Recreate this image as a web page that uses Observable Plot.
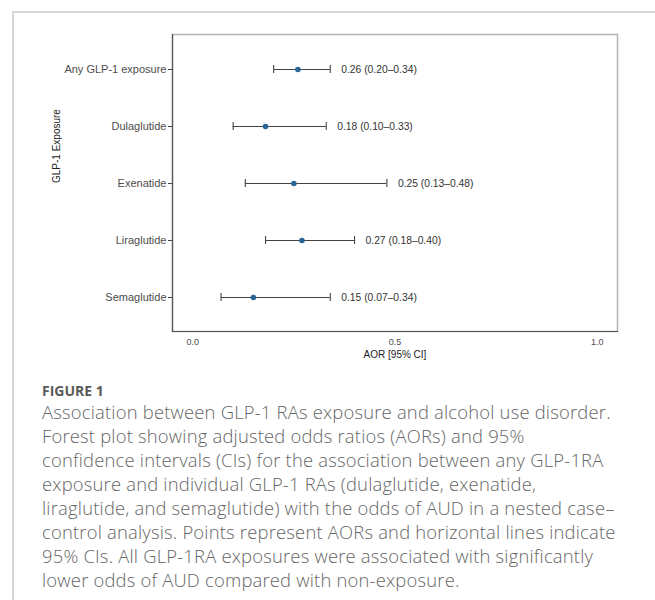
<!DOCTYPE html>
<html><head><meta charset="utf-8">
<script src="https://cdn.jsdelivr.net/npm/d3@7"></script>
<script src="https://cdn.jsdelivr.net/npm/@observablehq/plot@0.6"></script>
<style>
body{margin:0;background:#fff;width:655px;height:600px;overflow:hidden;position:relative;}
#card{position:absolute;left:12px;top:11px;width:700px;height:700px;border-left:2px solid #d6d6d6;border-top:2px solid #d6d6d6;}
#chart{position:absolute;left:0;top:0;}
#fig{position:absolute;left:42px;top:381px;font-family:"Open Sans",sans-serif;font-weight:700;font-size:14px;color:#5a5a5a;}
#cap{position:absolute;left:42px;top:400px;font-family:"Open Sans",sans-serif;font-weight:300;font-size:18.4px;letter-spacing:0.2px;line-height:24px;color:#666;white-space:nowrap;}
</style></head><body>
<div id="card"></div>
<div id="chart"></div>
<div id="fig">FIGURE 1</div>
<div id="cap"></div>
<script>
const exposures = ["Any GLP-1 exposure","Dulaglutide","Exenatide","Liraglutide","Semaglutide"];
const aor   = [0.26, 0.18, 0.25, 0.27, 0.15];
const lower = [0.20, 0.10, 0.13, 0.18, 0.07];
const upper = [0.34, 0.33, 0.48, 0.40, 0.34];
const xTicks = [0, 0.5, 1];
const xTitle = "AOR [95% CI]";
const yTitle = "GLP-1 Exposure";
const captionLines = [
  "Association between GLP-1 RAs exposure and alcohol use disorder.",
  "Forest plot showing adjusted odds ratios (AORs) and 95%",
  "confidence intervals (CIs) for the association between any GLP-1RA",
  "exposure and individual GLP-1 RAs (dulaglutide, exenatide,",
  "liraglutide, and semaglutide) with the odds of AUD in a nested case–",
  "control analysis. Points represent AORs and horizontal lines indicate",
  "95% CIs. All GLP-1RA exposures were associated with significantly",
  "lower odds of AUD compared with non-exposure."
];

const data = exposures.map((e, i) => ({
  exposure: e, aor: aor[i], lo: lower[i], hi: upper[i],
  label: `${aor[i].toFixed(2)} (${lower[i].toFixed(2)}–${upper[i].toFixed(2)})`
}));

const plot = Plot.plot({
  width: 655, height: 370,
  marginLeft: 172, marginRight: 38, marginTop: 34, marginBottom: 39,
  style: {fontFamily: "'Liberation Sans', Arial, sans-serif", background: "transparent", overflow: "visible"},
  x: {domain: [-0.05, 1.05]},
  y: {type: "band", domain: exposures, paddingInner: 0.86, paddingOuter: 0.53, align: 0.5},
  marks: [
    Plot.frame({stroke: "#b3b3b3", strokeWidth: 1.5}),
    Plot.frame({anchor: "left", stroke: "#555", strokeWidth: 1.2}),
    Plot.frame({anchor: "bottom", stroke: "#555", strokeWidth: 1.2}),
    Plot.axisY({tickSize: 4, tickPadding: 2, fontSize: 11, fill: "#4d4d4d", stroke: "#444", label: null}),
    Plot.axisX({ticks: xTicks, tickFormat: d3.format(".1f"), tickSize: 0, tickPadding: 7, fontSize: 9, fill: "#4d4d4d", label: null}),
    Plot.text([xTitle], {frameAnchor: "bottom", dy: 26, fontSize: 10, fill: "#222"}),
    Plot.text([yTitle], {frameAnchor: "left", dx: -116, rotate: -90, fontSize: 10, fill: "#222"}),
    Plot.ruleY(data, {y: "exposure", x1: "lo", x2: "hi", stroke: "#444", strokeWidth: 1.1}),
    Plot.tickX(data, {x: "lo", y: "exposure", stroke: "#444", strokeWidth: 1.1}),
    Plot.tickX(data, {x: "hi", y: "exposure", stroke: "#444", strokeWidth: 1.1}),
    Plot.dot(data, {x: "aor", y: "exposure", r: 2.8, fill: "#2a6598", stroke: "none"}),
    Plot.text(data, {x: "hi", y: "exposure", text: "label", dx: 11, textAnchor: "start", fontSize: 10.3, fill: "#333"})
  ]
});
document.getElementById("chart").appendChild(plot);
document.getElementById("cap").innerHTML = captionLines.map(l => `<div>${l}</div>`).join("");
</script>
</body></html>
